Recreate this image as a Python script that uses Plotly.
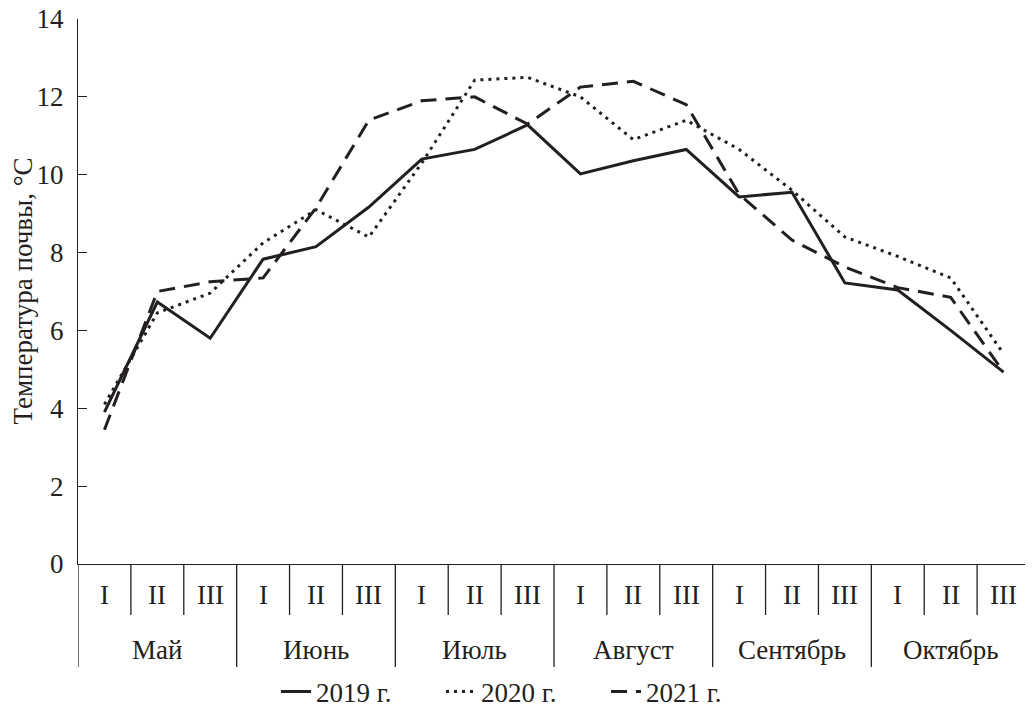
import plotly.graph_objects as go

decades = ["I", "II", "III"] * 6
months = ["Май", "Июнь", "Июль", "Август", "Сентябрь", "Октябрь"]
y2019 = [3.9, 6.73, 5.8, 7.83, 8.15, 9.17, 10.4, 10.65, 11.28, 10.02, 10.36, 10.65, 9.43, 9.55, 7.22, 7.04, 6.0, 4.93]
y2020 = [4.1, 6.45, 6.96, 8.25, 9.1, 8.4, 10.3, 12.43, 12.5, 12.0, 10.9, 11.4, 10.65, 9.6, 8.4, 7.9, 7.35, 5.4]
y2021 = [3.45, 7.0, 7.25, 7.35, 9.15, 11.4, 11.9, 12.0, 11.3, 12.25, 12.4, 11.8, 9.5, 8.32, 7.63, 7.1, 6.85, 4.93]
series = [("2019 г.", y2019, "solid"), ("2020 г.", y2020, "3px,5px"), ("2021 г.", y2021, "16px,9px")]

FONT = "Liberation Serif"
FS = 27
INK = "#231f20"
x = list(range(len(decades)))

fig = go.Figure()
for name, ys, dash in series:
    fig.add_trace(go.Scatter(x=x, y=ys, mode="lines", name=name,
                             line=dict(color=INK, width=3, dash=dash)))

# page has an 8px body margin, so the figure is sized/offset to compensate
W, H = 1025, 705
L, R, T, B = 70, 3, 11, 149
plot_h = H - T - B
plot_w = W - L - R
def py(px):
    return -px / plot_h

shapes = []
for k in range(len(decades)):
    is_month = (k % 3 == 0)
    shapes.append(dict(type="line", xref="x", yref="paper", x0=k - 0.5, x1=k - 0.5,
                       y0=0, y1=py(103 if is_month else 51),
                       line=dict(color=INK, width=1.3)))
annotations = []
for k, d in enumerate(decades):
    annotations.append(dict(x=k, y=0, xref="x", yref="paper", text=d, showarrow=False,
                            yshift=-31, yanchor="middle",
                            font=dict(family=FONT, size=FS, color=INK)))
for m, name in enumerate(months):
    annotations.append(dict(x=3 * m + 1, y=0, xref="x", yref="paper", text=name, showarrow=False,
                            yshift=-86, yanchor="middle",
                            font=dict(family=FONT, size=FS, color=INK)))
annotations.append(dict(x=(14 - L) / plot_w, y=0.5, xref="paper", yref="paper",
                        text="Температура почвы, °С", textangle=-90, showarrow=False,
                        xanchor="center", yanchor="middle",
                        font=dict(family=FONT, size=FS, color=INK)))

fig.update_layout(
    width=W, height=H,
    margin=dict(l=L, r=R, t=T, b=B, autoexpand=False),
    plot_bgcolor="white", paper_bgcolor="white",
    font=dict(family=FONT, size=FS, color=INK),
    shapes=shapes, annotations=annotations,
    showlegend=True,
    legend=dict(orientation="h", x=(268 - L) / plot_w, xanchor="left", y=py(128), yanchor="middle",
                font=dict(family=FONT, size=FS, color=INK),
                entrywidth=120, entrywidthmode="pixels", itemwidth=30,
                tracegroupgap=0, bgcolor="rgba(0,0,0,0)"),
    xaxis=dict(range=[-0.5, 17.5], showticklabels=False, ticks="", showgrid=False,
               zeroline=False, showline=True, linecolor=INK, linewidth=1.3, automargin=False),
    yaxis=dict(range=[0, 14], dtick=2, ticks="inside", ticklen=9, tickcolor=INK,
               showgrid=False, zeroline=False, showline=True, linecolor=INK, linewidth=1.3,
               ticklabelstandoff=8, automargin=False, ticklabeloverflow="allow",
               tickfont=dict(family=FONT, size=FS, color=INK)),
)
fig.write_html("out.html")
